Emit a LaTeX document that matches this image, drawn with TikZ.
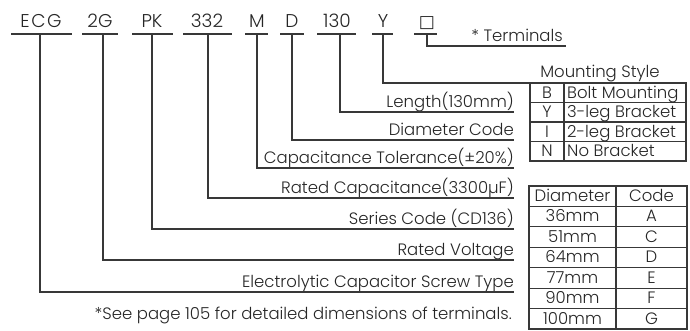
\documentclass[tikz,border=0pt]{standalone}
\usepackage{fontspec}
\setmainfont{Poppins}[UprightFont={* Light}]
\newfontfamily\symfont{DejaVu Sans}
\definecolor{ink}{HTML}{262626}
\definecolor{ln}{HTML}{383838}
\begin{document}
\begin{tikzpicture}[x=1pt,y=-1pt,
  code/.style={anchor=base, inner sep=0pt, font=\fontsize{18.5}{18.5}\selectfont, text=ink},
  lab/.style={anchor=base east, inner sep=0pt, font=\fontsize{16.5}{16.5}\selectfont, text=ink},
  cell/.style={anchor=base, inner sep=0pt, font=\fontsize{16.5}{16.5}\selectfont, text=ink},
  lcell/.style={cell, anchor=base west},
  wire/.style={draw=ln, line width=1.2pt},
  grid/.style={draw=ln, line width=1.1pt}]
\useasboundingbox (0,0) rectangle (690,330);

% ---- code letters
\node[code] (kECG) at (41,27.5) {E\kern1.5pt C\kern1.5pt G};
\node[code] (k2G)  at (100,27.5) {2G};
\node[code] (kPK)  at (152,27.5) {PK};
\node[code] (k332) at (207,27.5) {332};
\node[code] (kM)   at (257,27.5) {M};
\node[code] (kD)   at (292,27.5) {D};
\node[code] (k130) at (337,27.5) {130};
\node[code] (kY)   at (383,27.5) {Y};
\node[code] (kT)   at (427,27.5) {\symfont\fontsize{17}{17}\selectfont □};

% ---- underlines
\draw[wire] (11,34) -- (72,34);
\draw[wire] (82,34) -- (118,34);
\draw[wire] (132,34) -- (173,34);
\draw[wire] (183,34) -- (232,34);
\draw[wire] (245,34) -- (268,34);
\draw[wire] (280,34) -- (304,34);
\draw[wire] (317,34) -- (356,34);
\draw[wire] (372,34) -- (393,34);
\draw[wire] (414,34) -- (437,34);

\coordinate (uECG) at (40,34);
\coordinate (u2G)  at (103,34);
\coordinate (uPK)  at (152,34);
\coordinate (u332) at (208,34);
\coordinate (uM)   at (257,34);
\coordinate (uD)   at (292,34);
\coordinate (u130) at (340,34);
\coordinate (uY)   at (383,34);
\coordinate (uT)   at (427,34);

% ---- line ends
\coordinate (eT)   at (566,46);
\coordinate (eY)   at (530,83);
\coordinate (e130) at (514,112);
\coordinate (eD)   at (514,140);
\coordinate (eM)   at (514,168);
\coordinate (e332) at (514,198);
\coordinate (ePK)  at (514,229);
\coordinate (e2G)  at (514,260);
\coordinate (eECG) at (514,292);

% ---- labels
\node[lab] (lT)   at (563,41) {* Terminals};
\node[cell] (lMS) at (600,77) {Mounting Style};
\node[lab] (l130) at (514,107) {Length(130mm)};
\node[lab] (lD)   at (514,135) {Diameter Code};
\node[lab] (lM)   at (514,163) {Capacitance Tolerance(±20\%)};
\node[lab] (l332) at (514,193) {Rated Capacitance(3300µF)};
\node[lab] (lPK)  at (514,224) {Series Code (CD136)};
\node[lab] (l2G)  at (514,255) {Rated Voltage};
\node[lab] (lECG) at (514,287) {Electrolytic Capacitor Screw Type};
\node[lab] (lNote) at (512,319) {*See page 105 for detailed dimensions of terminals.};

% ---- connectors
\draw[wire] (uT) |- (eT);
\draw[wire] (uY) |- (eY);
\draw[wire] (u130) |- (e130);
\draw[wire] (uD) |- (eD);
\draw[wire] (uM) |- (eM);
\draw[wire] (u332) |- (e332);
\draw[wire] (uPK) |- (ePK);
\draw[wire] (u2G) |- (e2G);
\draw[wire] (uECG) |- (eECG);

% ---- mounting table
\draw[grid] (530,83) rectangle (686,161);
\draw[grid] (564,83) -- (564,161);
\foreach \r in {1,2,3} \draw[grid] (530,83+19.5*\r) -- (686,83+19.5*\r);
\node[cell] (mB)  at (547,98)   {B};
\node[lcell] (mBt) at (567,98)   {Bolt Mounting};
\node[cell] (mY)  at (547,117.5) {Y};
\node[lcell] (mYt) at (567,117.5) {3-leg Bracket};
\node[cell] (mI)  at (547,137)  {I};
\node[lcell] (mIt) at (567,137)  {2-leg Bracket};
\node[cell] (mN)  at (547,156.5) {N};
\node[lcell] (mNt) at (567,156.5) {No Bracket};

% ---- diameter table
\draw[grid] (529,186) rectangle (687,329);
\draw[grid] (616,186) -- (616,329);
\foreach \r in {1,...,6} \draw[grid] (529,186+20.43*\r) -- (687,186+20.43*\r);
\node[cell] (dH1) at (572.5,201.5) {Diameter};
\node[cell] (dH2) at (651.5,201.5) {Code};
\foreach \d/\c [count=\i] in {36mm/A,51mm/C,64mm/D,77mm/E,90mm/F,100mm/G}{
  \node[cell] (dl\i) at (572.5,201.5+20.43*\i) {\d};
  \node[cell] (dc\i) at (651.5,201.5+20.43*\i) {\c};
}
\end{tikzpicture}
\end{document}
